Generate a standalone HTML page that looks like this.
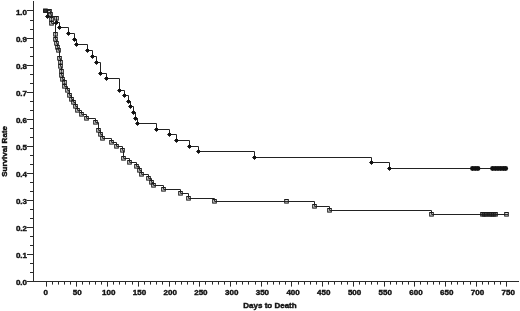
<!DOCTYPE html><html><head><meta charset="utf-8"><style>
html,body{margin:0;padding:0;background:#fff;width:520px;height:311px;overflow:hidden}
svg{display:block;will-change:transform}
text{font-family:"Liberation Sans",sans-serif;font-weight:bold;font-size:8px;fill:#111;stroke:#111;stroke-width:0.42px}
</style></head><body>
<svg width="520" height="311" viewBox="0 0 520 311">
<g stroke="#2a2a2a" stroke-width="1" fill="none">
<path d="M33.5,1V282"/>
<path d="M27,281.5H519"/>
<path d="M27,281.5H33M30,272.5H33M30,263.5H33M27,254.5H33M30,245.5H33M30,236.5H33M27,227.5H33M30,218.5H33M30,209.5H33M27,200.5H33M30,191.5H33M30,182.5H33M27,173.5H33M30,164.5H33M30,155.5H33M27,146.5H33M30,137.5H33M30,128.5H33M27,119.5H33M30,110.5H33M30,101.5H33M27,92.5H33M30,83.5H33M30,74.5H33M27,65.5H33M30,56.5H33M30,47.5H33M27,38.5H33M30,29.5H33M30,20.5H33M27,10.5H33"/>
<path d="M46.5,282V286.6M52.5,282V284.6M58.5,282V284.6M64.5,282V284.6M70.5,282V284.6M76.5,282V286.6M82.5,282V284.6M89.5,282V284.6M95.5,282V284.6M101.5,282V284.6M107.5,282V286.6M113.5,282V284.6M119.5,282V284.6M125.5,282V284.6M132.5,282V284.6M138.5,282V286.6M144.5,282V284.6M150.5,282V284.6M156.5,282V284.6M162.5,282V284.6M169.5,282V286.6M175.5,282V284.6M181.5,282V284.6M187.5,282V284.6M193.5,282V284.6M199.5,282V286.6M205.5,282V284.6M212.5,282V284.6M218.5,282V284.6M224.5,282V284.6M230.5,282V286.6M236.5,282V284.6M242.5,282V284.6M248.5,282V284.6M255.5,282V284.6M261.5,282V286.6M267.5,282V284.6M273.5,282V284.6M279.5,282V284.6M285.5,282V284.6M291.5,282V286.6M298.5,282V284.6M304.5,282V284.6M310.5,282V284.6M316.5,282V284.6M322.5,282V286.6M328.5,282V284.6M334.5,282V284.6M341.5,282V284.6M347.5,282V284.6M353.5,282V286.6M359.5,282V284.6M365.5,282V284.6M371.5,282V284.6M377.5,282V284.6M384.5,282V286.6M390.5,282V284.6M396.5,282V284.6M402.5,282V284.6M408.5,282V284.6M414.5,282V286.6M420.5,282V284.6M427.5,282V284.6M433.5,282V284.6M439.5,282V284.6M445.5,282V286.6M451.5,282V284.6M457.5,282V284.6M463.5,282V284.6M470.5,282V284.6M476.5,282V286.6M482.5,282V284.6M488.5,282V284.6M494.5,282V284.6M500.5,282V284.6M506.5,282V286.6"/>
</g>
<text x="27" y="285.0" text-anchor="end">0.0</text>
<text x="27" y="257.9" text-anchor="end">0.1</text>
<text x="27" y="230.9" text-anchor="end">0.2</text>
<text x="27" y="203.9" text-anchor="end">0.3</text>
<text x="27" y="176.8" text-anchor="end">0.4</text>
<text x="27" y="149.8" text-anchor="end">0.5</text>
<text x="27" y="122.7" text-anchor="end">0.6</text>
<text x="27" y="95.7" text-anchor="end">0.7</text>
<text x="27" y="68.6" text-anchor="end">0.8</text>
<text x="27" y="41.5" text-anchor="end">0.9</text>
<text x="27" y="14.5" text-anchor="end">1.0</text>
<text x="45.7" y="295.3" text-anchor="middle">0</text>
<text x="77.3" y="295.3" text-anchor="middle">50</text>
<text x="108.8" y="295.3" text-anchor="middle">100</text>
<text x="139.5" y="295.3" text-anchor="middle">150</text>
<text x="170.2" y="295.3" text-anchor="middle">200</text>
<text x="200.9" y="295.3" text-anchor="middle">250</text>
<text x="231.7" y="295.3" text-anchor="middle">300</text>
<text x="262.4" y="295.3" text-anchor="middle">350</text>
<text x="293.1" y="295.3" text-anchor="middle">400</text>
<text x="323.8" y="295.3" text-anchor="middle">450</text>
<text x="354.6" y="295.3" text-anchor="middle">500</text>
<text x="385.3" y="295.3" text-anchor="middle">550</text>
<text x="416.0" y="295.3" text-anchor="middle">600</text>
<text x="446.7" y="295.3" text-anchor="middle">650</text>
<text x="477.5" y="295.3" text-anchor="middle">700</text>
<text x="508.2" y="295.3" text-anchor="middle">750</text>
<text x="270" y="308" text-anchor="middle">Days to Death</text>
<text transform="translate(7.3,151.4) rotate(-90)" text-anchor="middle">Survival Rate</text>
<path d="M46.5,10.5H50.5V14.5H51.5V19.5H51.5V23.5H55.5V34.5H55.5V39.5H56.5V43.5H57.5V47.5H58.5V50.5H59.5V58.5H60.5V62.5H60.5V66.5H61.5V71.5H61.5V75.5H62.5V79.5H64.5V82.5H64.5V86.5H67.5V90.5H69.5V95.5H71.5V99.5H73.5V102.5H75.5V106.5H77.5V110.5H81.5V114.5H86.5V118.5H95.5V122.5H98.5V130.5H100.5V134.5H102.5V138.5H111.5V142.5H116.5V146.5H122.5V150.5H123.5V158.5H129.5V162.5H136.5V166.5H139.5V170.5H141.5V174.5H148.5V178.5H151.5V182.5H153.5V185.5H163.5V189.5H180.5V193.5H188.5V198.5H214.5V201.5H314.5V206.5H329.5V210.5H431.5V214.5H508" fill="none" stroke="#222" stroke-width="1"/>
<path d="M46.5,10.5H47.5V16.5H56.5V22.5H59.5V27.5H68.5V33.5H74.5V39.5H76.5V44.5H87.5V50.5H92.5V56.5H96.5V62.5H100.5V73.5H106.5V78.5H119.5V90.5H124.5V95.5H128.5V101.5H130.5V106.5H133.5V112.5H135.5V118.5H137.5V123.5H156.5V129.5H169.5V134.5H176.5V140.5H189.5V146.5H198.5V151.5H254.5V157.5H371.5V162.5H389.5V168.5H507.5" fill="none" stroke="#222" stroke-width="1"/>
<rect x="48.7" y="12.5" width="3.6" height="3.6" fill="rgba(110,110,110,0.2)" stroke="#1a1a1a" stroke-width="1"/>
<rect x="49.7" y="17.5" width="3.6" height="3.6" fill="rgba(110,110,110,0.2)" stroke="#1a1a1a" stroke-width="1"/>
<rect x="49.7" y="21.5" width="3.6" height="3.6" fill="rgba(110,110,110,0.2)" stroke="#1a1a1a" stroke-width="1"/>
<rect x="53.7" y="32.5" width="3.6" height="3.6" fill="rgba(110,110,110,0.2)" stroke="#1a1a1a" stroke-width="1"/>
<rect x="53.7" y="37.5" width="3.6" height="3.6" fill="rgba(110,110,110,0.2)" stroke="#1a1a1a" stroke-width="1"/>
<rect x="54.7" y="41.5" width="3.6" height="3.6" fill="rgba(110,110,110,0.2)" stroke="#1a1a1a" stroke-width="1"/>
<rect x="55.7" y="45.5" width="3.6" height="3.6" fill="rgba(110,110,110,0.2)" stroke="#1a1a1a" stroke-width="1"/>
<rect x="56.7" y="48.5" width="3.6" height="3.6" fill="rgba(110,110,110,0.2)" stroke="#1a1a1a" stroke-width="1"/>
<rect x="57.7" y="56.5" width="3.6" height="3.6" fill="rgba(110,110,110,0.2)" stroke="#1a1a1a" stroke-width="1"/>
<rect x="58.7" y="60.5" width="3.6" height="3.6" fill="rgba(110,110,110,0.2)" stroke="#1a1a1a" stroke-width="1"/>
<rect x="58.7" y="64.5" width="3.6" height="3.6" fill="rgba(110,110,110,0.2)" stroke="#1a1a1a" stroke-width="1"/>
<rect x="59.7" y="69.5" width="3.6" height="3.6" fill="rgba(110,110,110,0.2)" stroke="#1a1a1a" stroke-width="1"/>
<rect x="59.7" y="73.5" width="3.6" height="3.6" fill="rgba(110,110,110,0.2)" stroke="#1a1a1a" stroke-width="1"/>
<rect x="60.7" y="77.5" width="3.6" height="3.6" fill="rgba(110,110,110,0.2)" stroke="#1a1a1a" stroke-width="1"/>
<rect x="62.7" y="80.5" width="3.6" height="3.6" fill="rgba(110,110,110,0.2)" stroke="#1a1a1a" stroke-width="1"/>
<rect x="62.7" y="84.5" width="3.6" height="3.6" fill="rgba(110,110,110,0.2)" stroke="#1a1a1a" stroke-width="1"/>
<rect x="65.7" y="88.5" width="3.6" height="3.6" fill="rgba(110,110,110,0.2)" stroke="#1a1a1a" stroke-width="1"/>
<rect x="67.7" y="93.5" width="3.6" height="3.6" fill="rgba(110,110,110,0.2)" stroke="#1a1a1a" stroke-width="1"/>
<rect x="69.7" y="97.5" width="3.6" height="3.6" fill="rgba(110,110,110,0.2)" stroke="#1a1a1a" stroke-width="1"/>
<rect x="71.7" y="100.5" width="3.6" height="3.6" fill="rgba(110,110,110,0.2)" stroke="#1a1a1a" stroke-width="1"/>
<rect x="73.7" y="104.5" width="3.6" height="3.6" fill="rgba(110,110,110,0.2)" stroke="#1a1a1a" stroke-width="1"/>
<rect x="75.7" y="108.5" width="3.6" height="3.6" fill="rgba(110,110,110,0.2)" stroke="#1a1a1a" stroke-width="1"/>
<rect x="79.7" y="112.5" width="3.6" height="3.6" fill="rgba(110,110,110,0.2)" stroke="#1a1a1a" stroke-width="1"/>
<rect x="84.7" y="116.5" width="3.6" height="3.6" fill="rgba(110,110,110,0.2)" stroke="#1a1a1a" stroke-width="1"/>
<rect x="93.7" y="120.5" width="3.6" height="3.6" fill="rgba(110,110,110,0.2)" stroke="#1a1a1a" stroke-width="1"/>
<rect x="96.7" y="128.5" width="3.6" height="3.6" fill="rgba(110,110,110,0.2)" stroke="#1a1a1a" stroke-width="1"/>
<rect x="98.7" y="132.5" width="3.6" height="3.6" fill="rgba(110,110,110,0.2)" stroke="#1a1a1a" stroke-width="1"/>
<rect x="100.7" y="136.5" width="3.6" height="3.6" fill="rgba(110,110,110,0.2)" stroke="#1a1a1a" stroke-width="1"/>
<rect x="109.7" y="140.5" width="3.6" height="3.6" fill="rgba(110,110,110,0.2)" stroke="#1a1a1a" stroke-width="1"/>
<rect x="114.7" y="144.5" width="3.6" height="3.6" fill="rgba(110,110,110,0.2)" stroke="#1a1a1a" stroke-width="1"/>
<rect x="120.7" y="148.5" width="3.6" height="3.6" fill="rgba(110,110,110,0.2)" stroke="#1a1a1a" stroke-width="1"/>
<rect x="121.7" y="156.5" width="3.6" height="3.6" fill="rgba(110,110,110,0.2)" stroke="#1a1a1a" stroke-width="1"/>
<rect x="127.7" y="160.5" width="3.6" height="3.6" fill="rgba(110,110,110,0.2)" stroke="#1a1a1a" stroke-width="1"/>
<rect x="134.7" y="164.5" width="3.6" height="3.6" fill="rgba(110,110,110,0.2)" stroke="#1a1a1a" stroke-width="1"/>
<rect x="137.7" y="168.5" width="3.6" height="3.6" fill="rgba(110,110,110,0.2)" stroke="#1a1a1a" stroke-width="1"/>
<rect x="139.7" y="172.5" width="3.6" height="3.6" fill="rgba(110,110,110,0.2)" stroke="#1a1a1a" stroke-width="1"/>
<rect x="146.7" y="176.5" width="3.6" height="3.6" fill="rgba(110,110,110,0.2)" stroke="#1a1a1a" stroke-width="1"/>
<rect x="149.7" y="180.5" width="3.6" height="3.6" fill="rgba(110,110,110,0.2)" stroke="#1a1a1a" stroke-width="1"/>
<rect x="151.7" y="183.5" width="3.6" height="3.6" fill="rgba(110,110,110,0.2)" stroke="#1a1a1a" stroke-width="1"/>
<rect x="161.7" y="187.5" width="3.6" height="3.6" fill="rgba(110,110,110,0.2)" stroke="#1a1a1a" stroke-width="1"/>
<rect x="178.7" y="191.5" width="3.6" height="3.6" fill="rgba(110,110,110,0.2)" stroke="#1a1a1a" stroke-width="1"/>
<rect x="186.7" y="196.5" width="3.6" height="3.6" fill="rgba(110,110,110,0.2)" stroke="#1a1a1a" stroke-width="1"/>
<rect x="212.7" y="199.5" width="3.6" height="3.6" fill="rgba(110,110,110,0.2)" stroke="#1a1a1a" stroke-width="1"/>
<rect x="312.7" y="204.5" width="3.6" height="3.6" fill="rgba(110,110,110,0.2)" stroke="#1a1a1a" stroke-width="1"/>
<rect x="327.7" y="208.5" width="3.6" height="3.6" fill="rgba(110,110,110,0.2)" stroke="#1a1a1a" stroke-width="1"/>
<rect x="429.7" y="212.5" width="3.6" height="3.6" fill="rgba(110,110,110,0.2)" stroke="#1a1a1a" stroke-width="1"/>
<rect x="284.7" y="199.5" width="3.6" height="3.6" fill="rgba(110,110,110,0.2)" stroke="#1a1a1a" stroke-width="1"/>
<rect x="47.7" y="9.5" width="3.6" height="3.6" fill="rgba(110,110,110,0.2)" stroke="#1a1a1a" stroke-width="1"/>
<rect x="54.7" y="16.5" width="3.6" height="3.6" fill="rgba(110,110,110,0.2)" stroke="#1a1a1a" stroke-width="1"/>
<rect x="480.7" y="212.5" width="3.6" height="3.6" fill="rgba(40,40,40,0.55)" stroke="#1a1a1a" stroke-width="1"/>
<rect x="482.7" y="212.5" width="3.6" height="3.6" fill="rgba(40,40,40,0.55)" stroke="#1a1a1a" stroke-width="1"/>
<rect x="484.7" y="212.5" width="3.6" height="3.6" fill="rgba(40,40,40,0.55)" stroke="#1a1a1a" stroke-width="1"/>
<rect x="487.7" y="212.5" width="3.6" height="3.6" fill="rgba(40,40,40,0.55)" stroke="#1a1a1a" stroke-width="1"/>
<rect x="489.7" y="212.5" width="3.6" height="3.6" fill="rgba(40,40,40,0.55)" stroke="#1a1a1a" stroke-width="1"/>
<rect x="491.7" y="212.5" width="3.6" height="3.6" fill="rgba(40,40,40,0.55)" stroke="#1a1a1a" stroke-width="1"/>
<rect x="493.7" y="212.5" width="3.6" height="3.6" fill="rgba(40,40,40,0.55)" stroke="#1a1a1a" stroke-width="1"/>
<rect x="504.7" y="212.5" width="3.6" height="3.6" fill="rgba(110,110,110,0.2)" stroke="#1a1a1a" stroke-width="1"/>
<rect x="43.6" y="9.0" width="3.6" height="3.4" fill="#333" stroke="#111" stroke-width="1"/>
<path d="M47.5,14.5L49.5,16.5L47.5,18.5L45.5,16.5Z" fill="#111" stroke="#111" stroke-width="0.9" stroke-linejoin="round"/>
<path d="M56.5,20.5L58.5,22.5L56.5,24.5L54.5,22.5Z" fill="#111" stroke="#111" stroke-width="0.9" stroke-linejoin="round"/>
<path d="M59.5,25.5L61.5,27.5L59.5,29.5L57.5,27.5Z" fill="#111" stroke="#111" stroke-width="0.9" stroke-linejoin="round"/>
<path d="M68.5,31.5L70.5,33.5L68.5,35.5L66.5,33.5Z" fill="#111" stroke="#111" stroke-width="0.9" stroke-linejoin="round"/>
<path d="M74.5,37.5L76.5,39.5L74.5,41.5L72.5,39.5Z" fill="#111" stroke="#111" stroke-width="0.9" stroke-linejoin="round"/>
<path d="M76.5,42.5L78.5,44.5L76.5,46.5L74.5,44.5Z" fill="#111" stroke="#111" stroke-width="0.9" stroke-linejoin="round"/>
<path d="M87.5,48.5L89.5,50.5L87.5,52.5L85.5,50.5Z" fill="#111" stroke="#111" stroke-width="0.9" stroke-linejoin="round"/>
<path d="M92.5,54.5L94.5,56.5L92.5,58.5L90.5,56.5Z" fill="#111" stroke="#111" stroke-width="0.9" stroke-linejoin="round"/>
<path d="M96.5,60.5L98.5,62.5L96.5,64.5L94.5,62.5Z" fill="#111" stroke="#111" stroke-width="0.9" stroke-linejoin="round"/>
<path d="M100.5,71.5L102.5,73.5L100.5,75.5L98.5,73.5Z" fill="#111" stroke="#111" stroke-width="0.9" stroke-linejoin="round"/>
<path d="M106.5,76.5L108.5,78.5L106.5,80.5L104.5,78.5Z" fill="#111" stroke="#111" stroke-width="0.9" stroke-linejoin="round"/>
<path d="M119.5,88.5L121.5,90.5L119.5,92.5L117.5,90.5Z" fill="#111" stroke="#111" stroke-width="0.9" stroke-linejoin="round"/>
<path d="M124.5,93.5L126.5,95.5L124.5,97.5L122.5,95.5Z" fill="#111" stroke="#111" stroke-width="0.9" stroke-linejoin="round"/>
<path d="M128.5,99.5L130.5,101.5L128.5,103.5L126.5,101.5Z" fill="#111" stroke="#111" stroke-width="0.9" stroke-linejoin="round"/>
<path d="M130.5,104.5L132.5,106.5L130.5,108.5L128.5,106.5Z" fill="#111" stroke="#111" stroke-width="0.9" stroke-linejoin="round"/>
<path d="M133.5,110.5L135.5,112.5L133.5,114.5L131.5,112.5Z" fill="#111" stroke="#111" stroke-width="0.9" stroke-linejoin="round"/>
<path d="M135.5,116.5L137.5,118.5L135.5,120.5L133.5,118.5Z" fill="#111" stroke="#111" stroke-width="0.9" stroke-linejoin="round"/>
<path d="M137.5,121.5L139.5,123.5L137.5,125.5L135.5,123.5Z" fill="#111" stroke="#111" stroke-width="0.9" stroke-linejoin="round"/>
<path d="M156.5,127.5L158.5,129.5L156.5,131.5L154.5,129.5Z" fill="#111" stroke="#111" stroke-width="0.9" stroke-linejoin="round"/>
<path d="M169.5,132.5L171.5,134.5L169.5,136.5L167.5,134.5Z" fill="#111" stroke="#111" stroke-width="0.9" stroke-linejoin="round"/>
<path d="M176.5,138.5L178.5,140.5L176.5,142.5L174.5,140.5Z" fill="#111" stroke="#111" stroke-width="0.9" stroke-linejoin="round"/>
<path d="M189.5,144.5L191.5,146.5L189.5,148.5L187.5,146.5Z" fill="#111" stroke="#111" stroke-width="0.9" stroke-linejoin="round"/>
<path d="M198.5,149.5L200.5,151.5L198.5,153.5L196.5,151.5Z" fill="#111" stroke="#111" stroke-width="0.9" stroke-linejoin="round"/>
<path d="M254.5,155.5L256.5,157.5L254.5,159.5L252.5,157.5Z" fill="#111" stroke="#111" stroke-width="0.9" stroke-linejoin="round"/>
<path d="M371.5,160.5L373.5,162.5L371.5,164.5L369.5,162.5Z" fill="#111" stroke="#111" stroke-width="0.9" stroke-linejoin="round"/>
<path d="M389.5,166.5L391.5,168.5L389.5,170.5L387.5,168.5Z" fill="#111" stroke="#111" stroke-width="0.9" stroke-linejoin="round"/>
<ellipse cx="472.5" cy="168.5" rx="2.5" ry="2.45" fill="#111"/>
<ellipse cx="475.2" cy="168.5" rx="2.5" ry="2.45" fill="#111"/>
<ellipse cx="477.9" cy="168.5" rx="2.5" ry="2.45" fill="#111"/>
<ellipse cx="492.6" cy="168.5" rx="2.5" ry="2.45" fill="#111"/>
<ellipse cx="495.3" cy="168.5" rx="2.5" ry="2.45" fill="#111"/>
<ellipse cx="498" cy="168.5" rx="2.5" ry="2.45" fill="#111"/>
<ellipse cx="500.7" cy="168.5" rx="2.5" ry="2.45" fill="#111"/>
<ellipse cx="503.3" cy="168.5" rx="2.5" ry="2.45" fill="#111"/>
<ellipse cx="505.6" cy="168.5" rx="2.5" ry="2.45" fill="#111"/>
</svg></body></html>
